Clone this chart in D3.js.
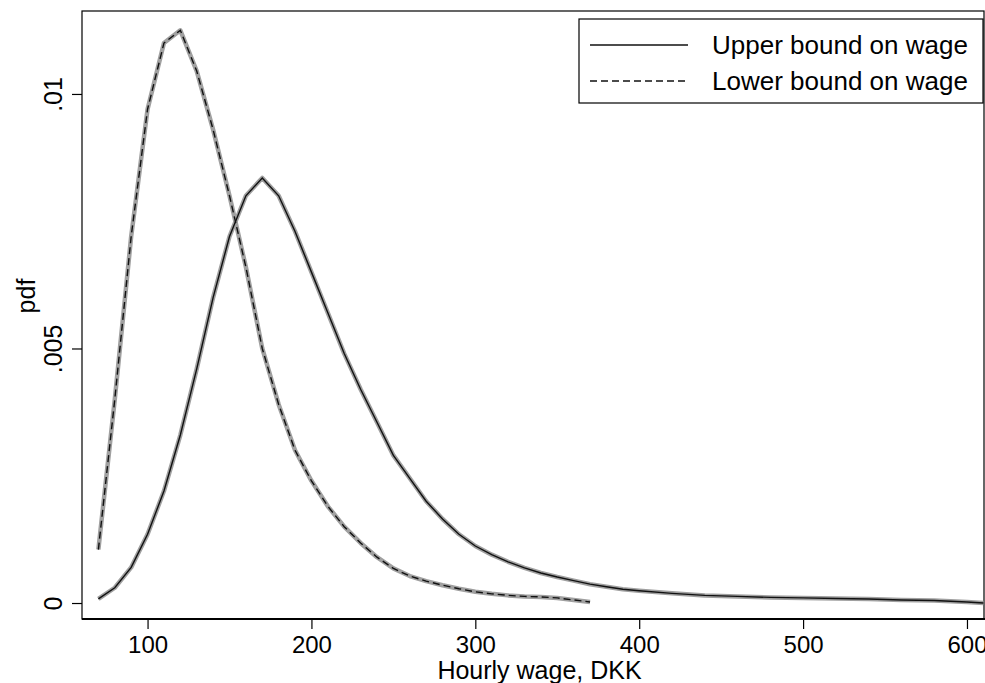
<!DOCTYPE html>
<html>
<head>
<meta charset="utf-8">
<script src="https://cdn.jsdelivr.net/npm/d3@7"></script>
<style>
  body { margin: 0; background: #fff; }
  svg { display: block; }
  text { font-family: "Liberation Sans", Arial, sans-serif; fill: #000; }
</style>
</head>
<body>
<svg id="chart" width="985" height="683"></svg>
<script>
// ---- data ----
const upperX = [70,80,90,100,110,120,130,140,150,160,170,180,190,200,210,220,230,240,250,260,270,280,290,300,310,320,330,340,350,360,370,380,390,400,420,440,460,480,500,520,540,560,580,600,610];
const upperY = [0.00008,0.0003,0.0007,0.00135,0.0022,0.0033,0.0046,0.0060,0.0072,0.0080,0.00835,0.0080,0.0073,0.0065,0.0057,0.0049,0.0042,0.00355,0.0029,0.00245,0.0020,0.00165,0.00135,0.00112,0.00095,0.00081,0.00069,0.00059,0.00051,0.00044,0.00037,0.00032,0.00027,0.00024,0.00019,0.00015,0.00013,0.00011,0.0001,0.00009,0.00008,0.00006,0.00005,0.00002,0.0];
const lowerX = [70,80,90,100,110,120,130,140,150,160,170,180,190,200,210,220,230,240,250,260,270,280,290,300,310,320,330,340,350,360,370];
const lowerY = [0.00105,0.0040,0.0072,0.0097,0.0110,0.01125,0.01045,0.0093,0.0080,0.0066,0.0050,0.0039,0.0030,0.0024,0.0019,0.0015,0.00118,0.0009,0.00068,0.00053,0.00043,0.00035,0.00028,0.00022,0.00018,0.00015,0.00013,0.00012,0.0001,0.00006,0.00002];
const xTicks = [100,200,300,400,500,600];
const yTicks = [0, 0.005, 0.01];
const yTickLabels = ["0", ".005", ".01"];
const seriesNames = ["Upper bound on wage", "Lower bound on wage"];
const xTitle = "Hourly wage, DKK";
const yTitle = "pdf";

// ---- layout ----
const L = 82, R = 985, T = 11, B = 619;
const svg = d3.select("#chart");
const x = d3.scaleLinear().domain([60, 611]).range([L, R]);
const y = d3.scaleLinear().domain([-0.000314, 0.01161]).range([B, 12]);

const upper = upperX.map((v, i) => [v, upperY[i]]);
const lower = lowerX.map((v, i) => [v, lowerY[i]]);
const line = d3.line().x(d => x(d[0])).y(d => y(d[1]));

// plot frame
svg.append("rect").attr("x", L).attr("y", T).attr("width", R - L - 1).attr("height", B - T)
  .attr("fill", "none").attr("stroke", "#000").attr("stroke-width", 1.2);

// confidence bands (grey halo) then lines
[upper, lower].forEach(s => {
  svg.append("path").datum(s).attr("d", line).attr("fill", "none")
    .attr("stroke", "#a0a0a0").attr("stroke-width", 4.5).attr("stroke-linejoin", "round");
});
svg.append("path").datum(upper).attr("d", line).attr("fill", "none")
  .attr("stroke", "#111").attr("stroke-width", 1.4);
svg.append("path").datum(lower).attr("d", line).attr("fill", "none")
  .attr("stroke", "#111").attr("stroke-width", 1.4).attr("stroke-dasharray", "7,4");

// x axis
const xAxis = svg.append("g").attr("transform", `translate(0,${B})`)
  .call(d3.axisBottom(x).tickValues(xTicks).tickSize(10).tickPadding(7).tickFormat(d3.format("d")));
xAxis.select(".domain").attr("stroke-width", 2).attr("d", `M${L},0H${R}`);
xAxis.selectAll("text").style("font-size", "24px").attr("fill", "#000");
xAxis.selectAll("line").attr("stroke-width", 1.2);

// y axis
const yAxis = svg.append("g").attr("transform", `translate(${L},0)`)
  .call(d3.axisLeft(y).tickValues(yTicks).tickSize(10).tickFormat((d, i) => yTickLabels[i]));
yAxis.select(".domain").remove();
yAxis.selectAll("line").attr("stroke-width", 1.2);
yAxis.selectAll("text")
  .attr("x", null).attr("dy", null)
  .attr("text-anchor", "middle")
  .attr("transform", "translate(-20,0) rotate(-90)")
  .style("font-size", "25px").attr("fill", "#000");

// axis titles
svg.append("text").attr("x", (L + R) / 2 + 6).attr("y", 679).attr("text-anchor", "middle")
  .style("font-size", "25px").text(xTitle);
svg.append("text").attr("transform", `translate(35,296) rotate(-90)`).attr("text-anchor", "middle")
  .style("font-size", "25px").text(yTitle);

// legend
const lg = svg.append("g");
lg.append("rect").attr("x", 579).attr("y", 19).attr("width", 404).attr("height", 84)
  .attr("fill", "#fff").attr("stroke", "#000").attr("stroke-width", 1.2);
const rows = [45, 81];
seriesNames.forEach((name, i) => {
  lg.append("line").attr("x1", 590).attr("x2", 688).attr("y1", rows[i]).attr("y2", rows[i])
    .attr("stroke", "#111").attr("stroke-width", 1.3)
    .attr("stroke-dasharray", i === 1 ? "7,4" : null);
  lg.append("text").attr("x", 712).attr("y", rows[i] + 9).style("font-size", "26px").text(name);
});
</script>
</body>
</html>
